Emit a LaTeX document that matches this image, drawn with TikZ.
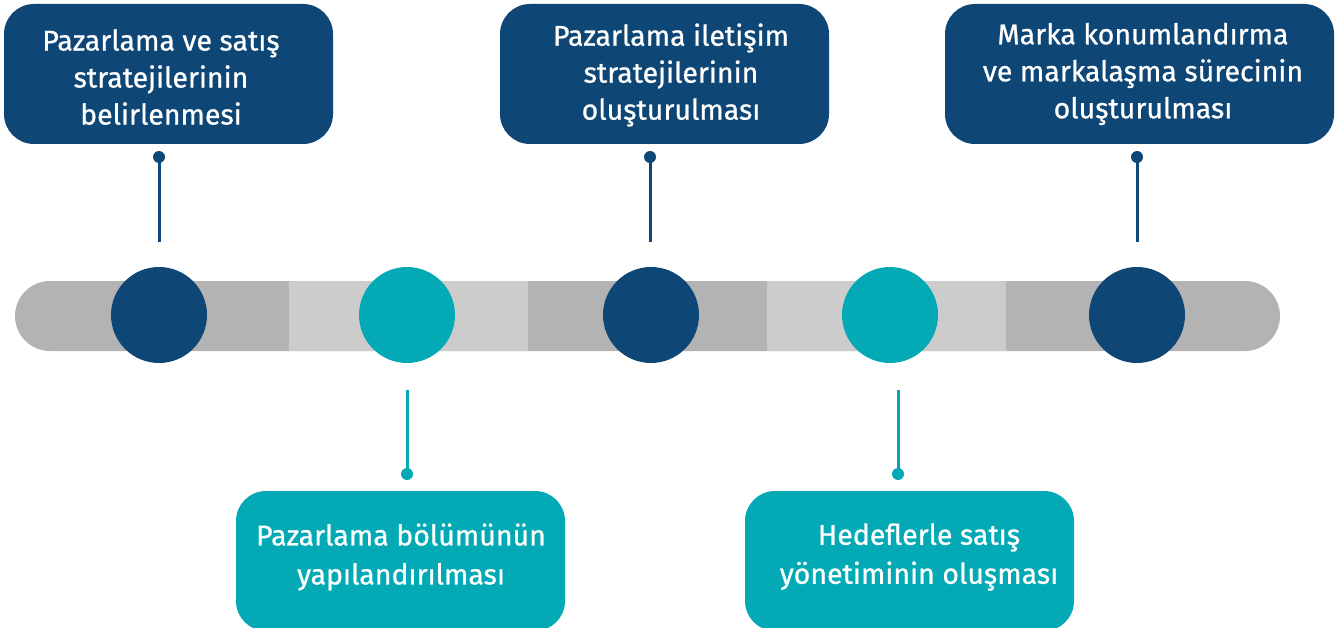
\documentclass[tikz,border=0pt]{standalone}
\usepackage{fontspec}
\setmainfont{Fira Sans}[FakeBold=0.8]
\definecolor{navy}{HTML}{0E4675}
\definecolor{teal}{HTML}{03AAB5}
\definecolor{bardark}{HTML}{B3B3B3}
\definecolor{barlight}{HTML}{CCCCCC}
\tikzset{
  topbox/.style={fill=navy, rounded corners=30pt, minimum height=140pt, text=white, align=center, inner sep=0pt, font=\fontsize{28.5}{37}\selectfont},
  botbox/.style={fill=teal, rounded corners=30pt, minimum height=140pt, text=white, align=center, inner sep=0pt, font=\fontsize{28.5}{39}\selectfont},
  toptext/.style={text=white, align=center, font=\fontsize{28.5}{37}\selectfont},
  bottext/.style={text=white, align=center, font=\fontsize{28.5}{39}\selectfont},
  bignavy/.style={circle, fill=navy, minimum size=96pt, inner sep=0pt},
  bigteal/.style={circle, fill=teal, minimum size=96pt, inner sep=0pt},
  dotnavy/.style={circle, fill=navy, minimum size=12pt, inner sep=0pt},
  dotteal/.style={circle, fill=teal, minimum size=12pt, inner sep=0pt},
  connnavy/.style={draw=navy, line width=3pt},
  connteal/.style={draw=teal, line width=3pt}
}
\begin{document}
\begin{tikzpicture}[x=1pt,y=-1pt]
\useasboundingbox (0,0) rectangle (1335,628);
% bar
\fill[bardark, rounded corners=35pt] (15,281) rectangle (1280,351);
\fill[barlight] (289,281) rectangle (528,351);
\fill[barlight] (767,281) rectangle (1006,351);
% circles
\node[bignavy] (c1) at (159,315) {};
\node[bigteal] (c2) at (407,315) {};
\node[bignavy] (c3) at (651,315) {};
\node[bigteal] (c4) at (890,315) {};
\node[bignavy] (c5) at (1137,315) {};
% boxes
\node[topbox, minimum width=329pt] (b1) at (168.5,74) {};
\node[toptext] (t1) at (161,77) {Pazarlama ve satış\\stratejilerinin\\belirlenmesi};
\node[topbox, minimum width=329pt] (b3) at (664.5,74) {};
\node[toptext] (t3) at (671,75) {Pazarlama iletişim\\stratejilerinin\\oluşturulması};
\node[topbox, minimum width=389pt] (b5) at (1139.5,74) {};
\node[toptext] (t5) at (1143,74) {Marka konumlandırma\\ve markalaşma sürecinin\\oluşturulması};
\node[botbox, minimum width=329pt] (b2) at (400.5,561) {};
\node[bottext] (t2) at (401,557) {Pazarlama bölümünün\\yapılandırılması};
\node[botbox, minimum width=329pt] (b4) at (909.5,561) {};
\node[bottext] (t4) at (919,557) {Hedeflerle satış\\yönetiminin oluşması};
% connectors
\node[dotnavy] (d1) at (159,157) {};
\node[dotnavy] (d3) at (650,157) {};
\node[dotnavy] (d5) at (1137,157) {};
\node[dotteal] (d2) at (407,474) {};
\node[dotteal] (d4) at (898,474) {};
\coordinate (e1) at (159,242);
\coordinate (e3) at (650,242);
\coordinate (e5) at (1137,242);
\coordinate (e2) at (407,390);
\coordinate (e4) at (898,390);
\draw[connnavy] (d1.center) -- (e1);
\draw[connnavy] (d3.center) -- (e3);
\draw[connnavy] (d5.center) -- (e5);
\draw[connteal] (d2.center) -- (e2);
\draw[connteal] (d4.center) -- (e4);
\end{tikzpicture}
\end{document}
